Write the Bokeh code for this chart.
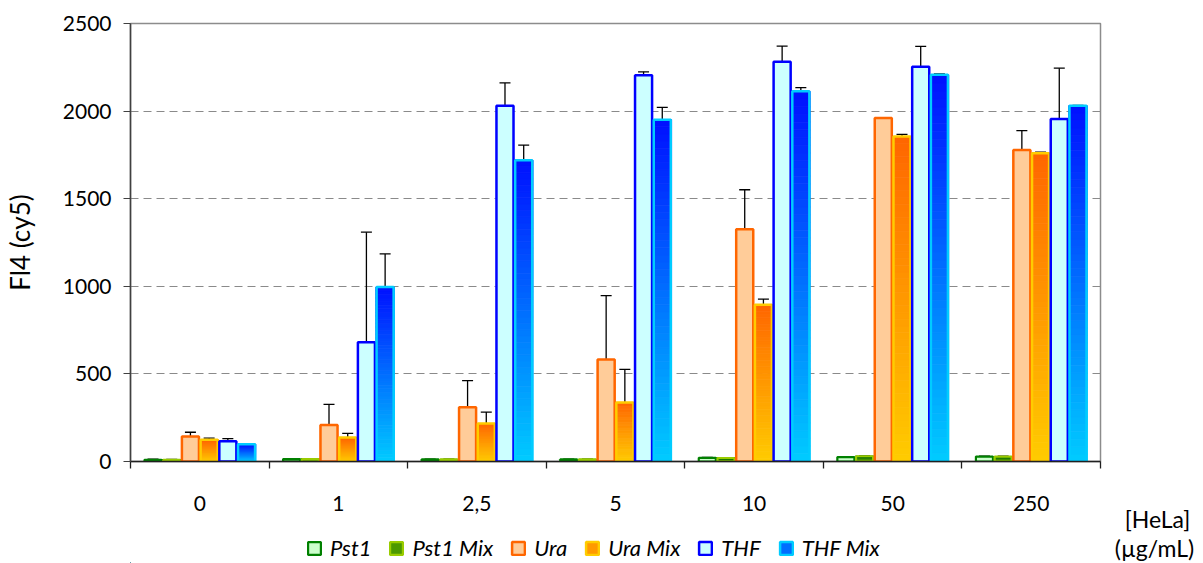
from bokeh.plotting import figure
from bokeh.layouts import row, column
from bokeh.models import (ColumnDataSource, Whisker, TeeHead, Legend, LegendItem,
                          FixedTicker, Range1d, Label)
from bokeh.embed import file_html
from bokeh.resources import INLINE

# ---------------- data ----------------
categories = ["0", "1", "2,5", "5", "10", "50", "250"]
series_names = ["Pst1", "Pst1 Mix", "Ura", "Ura Mix", "THF", "THF Mix"]

pst1 = [10, 14, 12, 12, 21, 25, 28]
pst1_err = [3, 2, 2, 2, 2, 3, 2]
pst1_mix = [9, 14, 12, 12, 20, 30, 28]
pst1_mix_err = [3, 2, 2, 2, 2, 2, 2]
ura = [143, 208, 309, 582, 1325, 1960, 1778]
ura_err = [24, 118, 153, 365, 226, 2, 111]
ura_mix = [124, 137, 217, 337, 895, 1855, 1760]
ura_mix_err = [9, 23, 65, 189, 32, 12, 5]
thf = [116, 681, 2031, 2204, 2281, 2253, 1955]
thf_err = [15, 628, 130, 20, 90, 117, 290]
thf_mix = [99, 996, 1720, 1951, 2113, 2207, 2031]
thf_mix_err = [2, 189, 86, 70, 21, 5, 2]

y_ticks = [0, 500, 1000, 1500, 2000, 2500]
x_title_lines = ["[HeLa]", "(µg/mL)"]

values = [pst1, pst1_mix, ura, ura_mix, thf, thf_mix]
errors = [pst1_err, pst1_mix_err, ura_err, ura_mix_err, thf_err, thf_mix_err]

# ---------------- styles ----------------
FONT = "Lato"
styles = [
    {"fill": "#CCFFCC", "line": "#008000", "lw": 2.2},
    {"grad": ("#99CC00", "#006600"), "line": "#99CC00", "lw": 2.2},
    {"fill": "#FFCC99", "line": "#FF6600", "lw": 2.5},
    {"grad": ("#FFCC00", "#FF6600"), "line": "#FFCC00", "lw": 2.5},
    {"fill": "#CCFFFF", "line": "#0000FF", "lw": 2.5},
    {"grad": ("#00CCFF", "#0010FF"), "line": "#00CCFF", "lw": 2.5},
]

BAR_W = 0.135
N_SLICES = 48


def hex2rgb(h):
    h = h.lstrip("#")
    return tuple(int(h[i:i + 2], 16) for i in (0, 2, 4))


def mix(c1, c2, t):
    a, b = hex2rgb(c1), hex2rgb(c2)
    return "#%02x%02x%02x" % tuple(round(a[i] + (b[i] - a[i]) * t) for i in range(3))


W_MAIN, H_MAIN = 1102, 514
W_RIGHT = 101
H_TOTAL = 563

p = figure(width=W_MAIN, height=H_MAIN, output_backend="svg", toolbar_location=None,
           x_range=Range1d(0, 7), y_range=Range1d(0, 2500),
           min_border_left=130, min_border_right=2, min_border_top=23, min_border_bottom=53,
           background_fill_color="white", border_fill_color="white")

p.outline_line_color = "#8c8c8c"
p.outline_line_width = 1.5

# grid
p.xgrid.visible = False
p.ygrid.ticker = FixedTicker(ticks=y_ticks[1:-1])
p.ygrid.grid_line_color = "#8a8a8a"
p.ygrid.grid_line_dash = "8 5"
p.ygrid.grid_line_width = 1

# y axis
p.yaxis.ticker = FixedTicker(ticks=y_ticks)
p.yaxis.axis_label = "Fl4 (cy5)"
p.yaxis.axis_label_text_font = FONT
p.yaxis.axis_label_text_font_size = "26px"
p.yaxis.axis_label_text_font_style = "normal"
p.yaxis.axis_label_text_color = "#000000"
p.yaxis.axis_label_standoff = 24
p.yaxis.major_label_text_font = FONT
p.yaxis.major_label_text_font_size = "21px"
p.yaxis.major_label_text_color = "#000000"
p.yaxis.major_label_standoff = 12
p.yaxis.major_tick_out = 7
p.yaxis.major_tick_in = 0
p.yaxis.minor_tick_out = 0
p.yaxis.minor_tick_in = 0
p.yaxis.axis_line_color = "#404040"
p.yaxis.axis_line_width = 1.5
p.yaxis.major_tick_line_color = "#404040"

# x axis: labels at group centres, tick marks between groups
centers = [i + 0.5 for i in range(len(categories))]
bounds = list(range(len(categories) + 1))
p.xaxis.ticker = FixedTicker(ticks=centers, minor_ticks=bounds)
p.xaxis.major_label_overrides = {c: lab for c, lab in zip(centers, categories)}
p.xaxis.major_label_text_font = FONT
p.xaxis.major_label_text_font_size = "21px"
p.xaxis.major_label_text_color = "#000000"
p.xaxis.major_label_standoff = 27
p.xaxis.major_tick_out = 0
p.xaxis.major_tick_in = 0
p.xaxis.minor_tick_out = 7
p.xaxis.minor_tick_in = 0
p.xaxis.minor_tick_line_color = "#202020"
p.xaxis.minor_tick_line_width = 1.3
p.xaxis.axis_line_color = "#202020"
p.xaxis.axis_line_width = 1.5

# ---------------- bars ----------------
for s, (vals, st) in enumerate(zip(values, styles)):
    xs = [i + 0.5 + (s - 2.5) * BAR_W for i in range(len(categories))]
    if "grad" in st:
        c_bot, c_top = st["grad"]
        gx, gb, gt, gc = [], [], [], []
        for x, v in zip(xs, vals):
            for k in range(N_SLICES):
                gx.append(x)
                gb.append(v * k / N_SLICES)
                gt.append(v * (k + 1) / N_SLICES)
                gc.append(mix(c_bot, c_top, (k + 0.5) / N_SLICES))
        src = ColumnDataSource(dict(x=gx, bottom=gb, top=gt, color=gc))
        p.vbar(x="x", bottom="bottom", top="top", width=BAR_W, source=src,
               fill_color="color", line_color="color", line_width=0.8)
    else:
        src = ColumnDataSource(dict(x=xs, top=vals))
        p.vbar(x="x", top="top", bottom=0, width=BAR_W, source=src,
               fill_color=st["fill"], line_color=None)

for s, (vals, errs, st) in enumerate(zip(values, errors, styles)):
    xs = [i + 0.5 + (s - 2.5) * BAR_W for i in range(len(categories))]
    src = ColumnDataSource(dict(x=xs, top=vals,
                                upper=[v + e for v, e in zip(vals, errs)]))
    p.vbar(x="x", top="top", bottom=0, width=BAR_W - 0.012, source=src,
           fill_color=None, line_color=st["line"], line_width=st["lw"])
    w = Whisker(base="x", lower="top", upper="upper", source=src, dimension="height",
                line_color="#000000", line_width=1.3,
                upper_head=TeeHead(size=11, line_color="#000000", line_width=1.3),
                lower_head=None)
    p.add_layout(w)

# ---------------- legend strip ----------------
H_LEG = H_TOTAL - H_MAIN
pl = figure(width=W_MAIN, height=H_LEG, output_backend="svg", toolbar_location=None,
            x_range=Range1d(0, 10), y_range=Range1d(0, 10),
            min_border=0, outline_line_color=None,
            background_fill_color="white", border_fill_color="white")
pl.axis.visible = False
pl.grid.visible = False
items = []
for name, st in zip(series_names, styles):
    if "grad" in st:
        fill = mix(st["grad"][0], st["grad"][1], 0.5)
    else:
        fill = st["fill"]
    # legend proxy: a bar placed outside the strip's visible range
    r = pl.vbar(x=[-100], top=[-100], bottom=[-101], width=1, fill_color=fill,
                line_color=st["line"], line_width=st["lw"])
    items.append(LegendItem(label=name, renderers=[r]))
legend = Legend(items=items, orientation="horizontal", location=(176, 2),
                label_text_font=FONT, label_text_font_size="22px",
                label_text_font_style="italic", label_text_color="#000000",
                glyph_width=16, glyph_height=16, label_standoff=8, spacing=17,
                padding=0, margin=0, border_line_alpha=0, background_fill_alpha=0)
pl.add_layout(legend, "center")

# ---------------- x-axis title strip (right) ----------------
pr = figure(width=W_RIGHT, height=H_TOTAL, output_backend="svg", toolbar_location=None,
            x_range=Range1d(0, W_RIGHT), y_range=Range1d(0, H_TOTAL),
            min_border=0, outline_line_color=None,
            background_fill_color="white", border_fill_color="white")
pr.axis.visible = False
pr.grid.visible = False
for txt, xx, yy in zip(x_title_lines, (55, 52), (45, 16)):
    pr.add_layout(Label(x=xx, y=yy, text=txt, text_align="center", text_baseline="middle",
                        text_font=FONT, text_font_size="23px", text_color="#000000"))

layout = row(column(p, pl, spacing=0), pr, spacing=0)
open("out.html", "w").write(file_html(layout, INLINE))
